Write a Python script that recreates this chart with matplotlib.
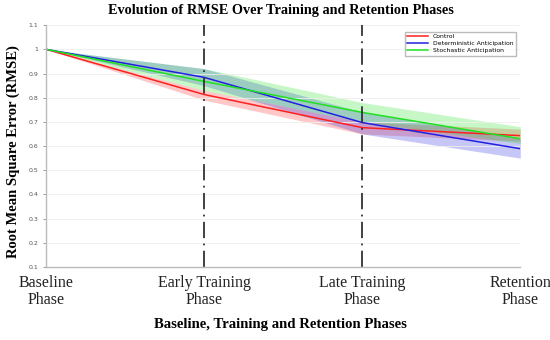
import numpy as np
import matplotlib
matplotlib.use('Agg')
import matplotlib.pyplot as plt

# Daten
phases = ["Baseline\nPhase", "Early Training\nPhase", "Late Training\nPhase", "Retention\nPhase"]
control = [1.0, 0.813, 0.676, 0.643]
control_lo = [1.0, 0.79, 0.65, 0.62]
control_hi = [1.0, 0.83, 0.70, 0.67]
determ = [1.0, 0.884, 0.697, 0.589]
determ_lo = [1.0, 0.85, 0.65, 0.55]
determ_hi = [1.0, 0.92, 0.74, 0.63]
stoch = [1.0, 0.867, 0.739, 0.63]
stoch_lo = [1.0, 0.83, 0.70, 0.61]
stoch_hi = [1.0, 0.92, 0.78, 0.68]
y_ticks = [0.1, 0.2, 0.3, 0.4, 0.5, 0.6, 0.7, 0.8, 0.9, 1, 1.1]

x = np.arange(len(phases))
serif = "Liberation Serif"

fig = plt.figure(figsize=(5.5, 3.4), dpi=100)
ax = fig.add_axes([0.084, 0.215, 0.862, 0.711])

series = [
    ("Control", control, control_lo, control_hi, "#ff2020"),
    ("Deterministic Anticipation", determ, determ_lo, determ_hi, "#2020e0"),
    ("Stochastic Anticipation", stoch, stoch_lo, stoch_hi, "#20e020"),
]
for name, m, lo, hi, c in series:
    ax.fill_between(x, lo, hi, color=c, alpha=0.25, linewidth=0)
for name, m, lo, hi, c in series:
    ax.plot(x, m, color=c, lw=1.1, label=name)

for xv in [1, 2]:
    ax.axvline(xv, color="#333333", lw=1.3, ls="-.", dashes=(9, 3, 1, 3))

ax.set_xlim(0, 3)
ax.set_ylim(0.1, 1.1)
ax.set_yticks(y_ticks)
ax.set_yticklabels([f"{v:g}" for v in y_ticks])
ax.set_xticks(x)
ax.set_xticklabels(phases, fontfamily=serif, fontsize=11.5, color="#222222",
                   linespacing=1.05)
ax.tick_params(axis="y", labelsize=4.5, colors="#555555", length=2, width=0.4)
ax.tick_params(axis="x", length=0, pad=6)
ax.grid(axis="y", color="#eeeeee", lw=0.6)
for s in ["top", "right"]:
    ax.spines[s].set_visible(False)
for s in ["left", "bottom"]:
    ax.spines[s].set_color("#bbbbbb")
    ax.spines[s].set_linewidth(1.0)

ax.legend(loc="upper right", fontsize=4.4, frameon=True, fancybox=False,
          edgecolor="#aaaaaa", handlelength=3.5, borderpad=0.35,
          labelspacing=0.3, bbox_to_anchor=(0.997, 0.985))

fig.text(0.51, 0.97, "Evolution of RMSE Over Training and Retention Phases",
         ha="center", va="center", fontfamily=serif, fontweight="bold", fontsize=10.3)
fig.text(0.51, 0.045, "Baseline, Training and Retention Phases",
         ha="center", va="center", fontfamily=serif, fontweight="bold", fontsize=10.6)
fig.text(0.025, 0.555, "Root Mean Square Error (RMSE)", rotation=90,
         ha="center", va="center", fontfamily=serif, fontweight="bold", fontsize=10.5)

fig.savefig("out.png", dpi=100)
